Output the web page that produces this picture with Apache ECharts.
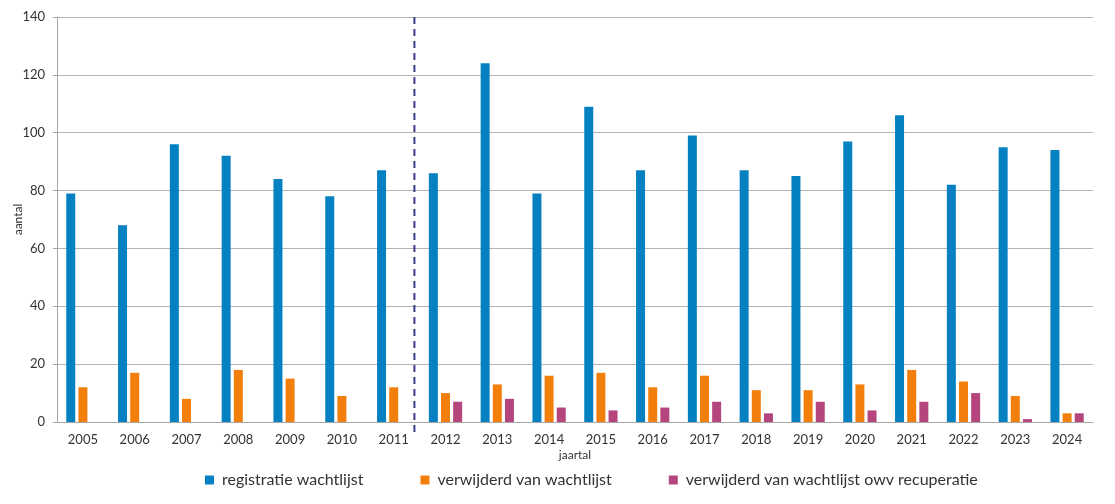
<!DOCTYPE html>
<html>
<head>
<meta charset="utf-8">
<script src="https://cdn.jsdelivr.net/npm/echarts@6/dist/echarts.min.js"></script>
<style>
  html, body { margin: 0; padding: 0; background: #fff; }
  #chart { width: 1115px; height: 504px; }
</style>
</head>
<body>
<div id="chart"></div>
<script>
let years = ['2005', '2006', '2007', '2008', '2009', '2010', '2011', '2012', '2013', '2014',
    '2015', '2016', '2017', '2018', '2019', '2020', '2021', '2022', '2023', '2024']
let registratie = [79, 68, 96, 92, 84, 78, 87, 86, 124, 79, 109, 87, 99, 87, 85, 97, 106, 82, 95, 94]
let verwijderd = [12, 17, 8, 18, 15, 9, 12, 10, 13, 16, 17, 12, 16, 11, 11, 13, 18, 14, 9, 3]
let recuperatie = [null, null, null, null, null, null, null, 7, 8, 5, 4, 5, 7, 3, 7, 4, 7, 10, 1, 3]
let seriesNames = ['registratie wachtlijst', 'verwijderd van wachtlijst', 'verwijderd van wachtlijst owv recuperatie']
// dashed separator between 2011 and 2012 (x in category units, y from top to just under the axis)
let splitAt = 6.9
let splitLine = [[splitAt, 140], [splitAt, -5]]

let chart = echarts.init(document.getElementById('chart'))
let font = 'Lato, "Open Sans", sans-serif'

function barSeries(name, data, color) {
    return {
        name: name,
        type: 'bar',
        data: data,
        barWidth: 9,
        barGap: '35%',
        itemStyle: { color: color },
        xAxisIndex: 0,
        yAxisIndex: 0
    }
}

option = {
    animation: false,
    textStyle: { fontFamily: font },
    grid: { left: 57, right: 22, top: 17, bottom: 82, outerBoundsMode: 'none', containLabel: false },
    legend: {
        data: seriesNames,
        left: 200,
        top: 467,
        itemWidth: 9,
        itemHeight: 9,
        itemGap: 57,
        icon: 'rect',
        textStyle: { fontSize: 16, color: '#333', fontFamily: font, padding: [0, 0, 0, 3] }
    },
    xAxis: [
        {
            type: 'category',
            data: years,
            name: 'jaartal',
            nameLocation: 'middle',
            nameGap: 27,
            nameMoveOverlap: false,
            nameTextStyle: { fontSize: 12, color: '#333', fontFamily: font },
            axisLine: { lineStyle: { color: '#a6a6a6' } },
            axisTick: { show: false },
            axisLabel: { fontSize: 13, color: '#333', margin: 11, fontFamily: font }
        },
        {
            type: 'value',
            min: 0,
            max: years.length,
            show: false
        }
    ],
    yAxis: [
        {
            type: 'value',
            min: 0,
            max: 140,
            interval: 20,
            name: 'aantal',
            nameLocation: 'middle',
            nameGap: 33,
            nameMoveOverlap: false,
            nameTextStyle: { fontSize: 12, color: '#333', fontFamily: font },
            axisLine: { show: true, lineStyle: { color: '#a6a6a6' } },
            axisTick: { show: true, length: 4, lineStyle: { color: '#a6a6a6' } },
            axisLabel: { fontSize: 13, color: '#333', margin: 12, fontFamily: font },
            splitLine: { lineStyle: { color: '#b3b3b3' } }
        }
    ],
    series: [
        barSeries(seriesNames[0], registratie, '#0581c1'),
        barSeries(seriesNames[1], verwijderd, '#f27f0c'),
        barSeries(seriesNames[2], recuperatie, '#b5467d'),
        {
            name: 'scheiding',
            type: 'line',
            xAxisIndex: 1,
            yAxisIndex: 0,
            data: splitLine,
            clip: false,
            silent: true,
            showSymbol: false,
            symbol: 'none',
            lineStyle: { color: '#3c3a8a', type: [7, 5], width: 2 }
        }
    ]
}
chart.setOption(option)
</script>
</body>
</html>
